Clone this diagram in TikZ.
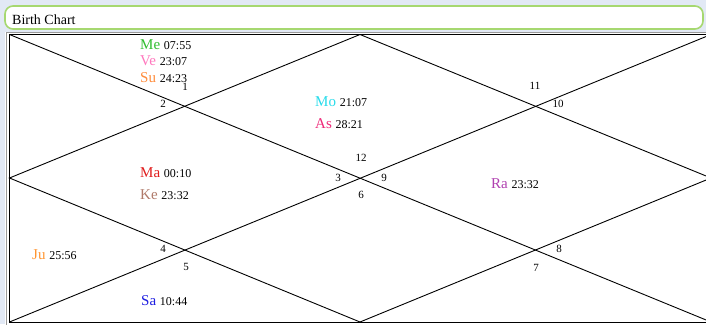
\documentclass[tikz,border=0pt]{standalone}
\usepackage{fontspec}
\setmainfont{Liberation Serif}
\definecolor{bgblue}{RGB}{226,233,245}
\definecolor{barGreen}{RGB}{166,216,112}
\definecolor{meClr}{RGB}{50,190,50}
\definecolor{veClr}{RGB}{255,120,190}
\definecolor{suClr}{RGB}{255,140,60}
\definecolor{moClr}{RGB}{40,220,235}
\definecolor{asClr}{RGB}{238,40,120}
\definecolor{maClr}{RGB}{225,30,30}
\definecolor{keClr}{RGB}{176,122,106}
\definecolor{raClr}{RGB}{176,64,176}
\definecolor{juClr}{RGB}{255,150,50}
\definecolor{saClr}{RGB}{30,30,225}
\newcommand{\degtxt}[1]{{\fontsize{12}{12}\selectfont #1}}
\begin{document}
\begin{tikzpicture}[x=1pt,y=-1pt,
    planet/.style={anchor=base west,inner sep=0pt,font=\fontsize{15}{15}\selectfont},
    house/.style={inner sep=0pt,font=\fontsize{11}{11}\selectfont}]
    \useasboundingbox (0,0) rectangle (706,324);
    % Window background
    \fill[bgblue] (0,0) rectangle (706,32);
    \fill[bgblue] (0,0) rectangle (5,324);
    % Title bar
    \draw[barGreen, line width=1.6pt, fill=white, rounded corners=8pt] (5,6) rectangle (703,29);
    \node[anchor=base west,inner sep=0pt,font=\fontsize{14}{14}\selectfont] (title) at (12,24) {Birth Chart};
    % Chart frame
    \fill[white] (6.5,32) rectangle (712,324);
    \draw[gray!80, line width=1pt] (6.5,32) rectangle (714,330);
    \coordinate (tl) at (9.5,34.5);
    \coordinate (tr) at (711,34.5);
    \coordinate (bl) at (9.5,322);
    \coordinate (br) at (711,322);
    \coordinate (mt) at (360,34.5);
    \coordinate (ml) at (9.5,178);
    \coordinate (mb) at (360,322);
    \coordinate (mr) at (711,178);
    \draw[line width=1pt] (tl) -- (tr) -- (br) -- (bl) -- cycle;
    % Diagonals and diamond
    \draw[line width=0.9pt] (tl) -- (br);
    \draw[line width=0.9pt] (tr) -- (bl);
    \draw[line width=0.9pt] (mt) -- (ml) -- (mb) -- (mr) -- cycle;
    % House numbers
    \node[house] (h1) at (185,87) {1};
    \node[house] (h2) at (163,104) {2};
    \node[house] (h3) at (338,178) {3};
    \node[house] (h4) at (163,249) {4};
    \node[house] (h5) at (186,267) {5};
    \node[house] (h6) at (361,195) {6};
    \node[house] (h7) at (536,268) {7};
    \node[house] (h8) at (559,249) {8};
    \node[house] (h9) at (384,178) {9};
    \node[house] (h10) at (558,104) {10};
    \node[house] (h11) at (535,86) {11};
    \node[house] (h12) at (361,158) {12};
    % Planets
    \node[planet] (me) at (140,49) {\textcolor{meClr}{Me}~\degtxt{07:55}};
    \node[planet] (ve) at (140,65) {\textcolor{veClr}{Ve}~\degtxt{23:07}};
    \node[planet] (su) at (140,82) {\textcolor{suClr}{Su}~\degtxt{24:23}};
    \node[planet] (mo) at (315,106) {\textcolor{moClr}{Mo}~\degtxt{21:07}};
    \node[planet] (as) at (315,128) {\textcolor{asClr}{As}~\degtxt{28:21}};
    \node[planet] (ma) at (140,177) {\textcolor{maClr}{Ma}~\degtxt{00:10}};
    \node[planet] (ke) at (140,199) {\textcolor{keClr}{Ke}~\degtxt{23:32}};
    \node[planet] (ra) at (491,188) {\textcolor{raClr}{Ra}~\degtxt{23:32}};
    \node[planet] (ju) at (32,259) {\textcolor{juClr}{Ju}~\degtxt{25:56}};
    \node[planet] (sa) at (141,305) {\textcolor{saClr}{Sa}~\degtxt{10:44}};
\end{tikzpicture}
\end{document}
